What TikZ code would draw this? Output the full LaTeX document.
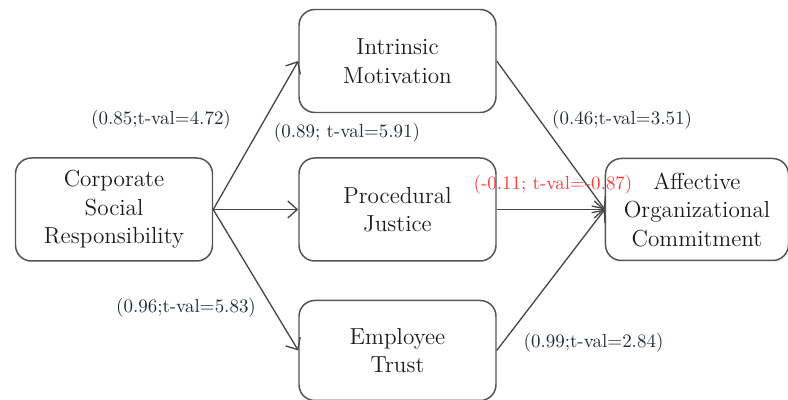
\documentclass[tikz,border=0pt]{standalone}
\usepackage{xcolor}
\usepackage{tikz}
\usetikzlibrary{arrows.meta,positioning}
\definecolor{boxline}{HTML}{555555}
\definecolor{boxtext}{HTML}{1C1C1C}
\definecolor{coefblue}{HTML}{222C3C}
\definecolor{coefred}{HTML}{FF3B3B}
\tikzset{
  patharrow/.style={-{Straight Barb[length=1.9mm,width=3.4mm]}, line width=0.75pt, draw=black!72},
  construct/.style={draw=boxline, rounded corners=9pt, line width=0.85pt, fill=white,
    align=center, text=boxtext, minimum width=39.4mm, minimum height=20.6mm,
    font=\fontsize{13.2}{16.2}\selectfont},
  coef/.style={font=\fontsize{10.8}{13}\selectfont, text=coefblue, inner sep=1pt},
  coefneg/.style={coef, text=coefred}
}
\begin{document}
\begin{tikzpicture}[node distance=8mm and 17mm]
        \useasboundingbox (0,0) rectangle (15.76,8);
        \node[construct] (csr) at (2.28,3.81) {Corporate\\Social\\Responsibility};
        \node[construct, right=17mm of csr] (pj) {Procedural\\Justice};
        \node[construct, above=8.8mm of pj] (im) {Intrinsic\\Motivation};
        \node[construct, below=7.6mm of pj, minimum height=20mm] (et) {Employee\\Trust};
        \node[construct, right=21.6mm of pj, minimum width=36.6mm, minimum height=20.4mm] (aoc) {Affective\\Organizational\\Commitment};

        \draw[patharrow] (csr.east) -- (im.west);
        \draw[patharrow] (csr.east) -- (pj.west);
        \draw[patharrow] (csr.east) -- (et.west);
        \draw[patharrow] (im.east) -- (aoc.west);
        \draw[patharrow] (pj.east) -- (aoc.west);
        \draw[patharrow] (et.east) -- (aoc.west);

        \node[coef] (c1) at (3.22,5.6) {(0.85;t-val=4.72)};
        \node[coef] (c2) at (6.94,5.34) {(0.89; t-val=5.91)};
        \node[coef] (c3) at (3.72,1.84) {(0.96;t-val=5.83)};
        \node[coef] (c4) at (12.44,5.6) {(0.46;t-val=3.51)};
        \node[coefneg] (c5) at (11.06,4.3) {(-0.11; t-val=-0.87)};
        \node[coef] (c6) at (11.87,1.14) {(0.99;t-val=2.84)};
    \end{tikzpicture}
\end{document}
